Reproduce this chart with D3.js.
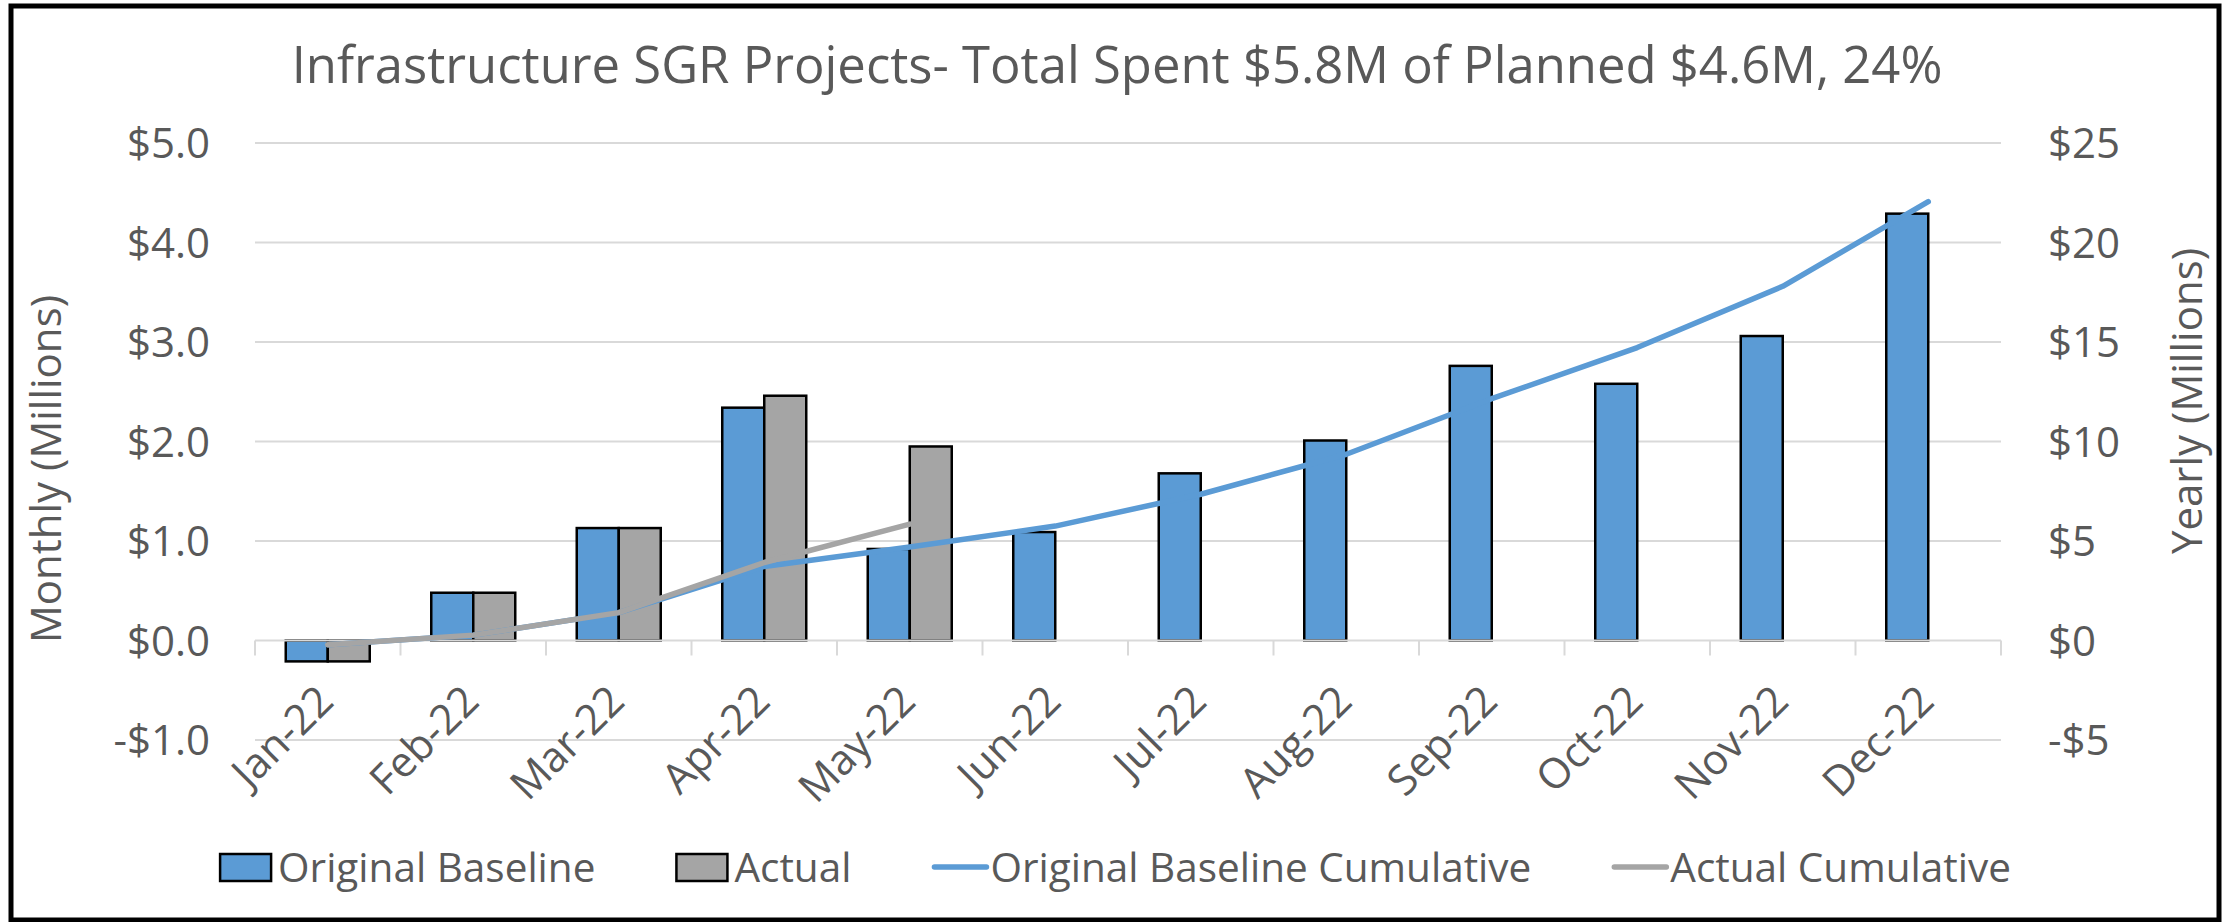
<!DOCTYPE html>
<html>
<head>
<meta charset="utf-8">
<script src="https://cdn.jsdelivr.net/npm/d3@7"></script>
<style>
  html, body { margin: 0; padding: 0; background: #fff; }
  svg { display: block; }
  text { font-family: "Open Sans", "Noto Sans", sans-serif; fill: #595959; }
</style>
</head>
<body>
<svg id="chart"></svg>
<script>
const months = ["Jan-22", "Feb-22", "Mar-22", "Apr-22", "May-22", "Jun-22",
  "Jul-22", "Aug-22", "Sep-22", "Oct-22", "Nov-22", "Dec-22"];
const baselineMonthly = [-0.21, 0.48, 1.13, 2.34, 0.92, 1.09, 1.68, 2.01, 2.76, 2.58, 3.06, 4.29];
const actualMonthly = [-0.21, 0.48, 1.13, 2.46, 1.95];
const baselineCumulative = [-0.21, 0.27, 1.40, 3.72, 4.70, 5.75, 7.35, 9.36, 12.15, 14.72, 17.80, 22.05];
const actualCumulative = [-0.21, 0.27, 1.40, 3.92, 5.85];
const leftTicks = [-1, 0, 1, 2, 3, 4, 5];
const rightTicks = [-5, 0, 5, 10, 15, 20, 25];
const legendItems = [
  { name: "Original Baseline", type: "bar", color: "#5B9BD5" },
  { name: "Actual", type: "bar", color: "#A5A5A5" },
  { name: "Original Baseline Cumulative", type: "line", color: "#5B9BD5" },
  { name: "Actual Cumulative", type: "line", color: "#A5A5A5" }
];
const title = "Infrastructure SGR Projects- Total Spent $5.8M of Planned $4.6M, 24%";

const width = 2229, height = 922;
const plot = { left: 255, right: 2001, top: 143, bottom: 740 };
const blue = "#5B9BD5", gray = "#A5A5A5", grid = "#D9D9D9";

const svg = d3.select("#chart").attr("width", width).attr("height", height);

// outer frame
svg.append("rect")
  .attr("x", 11).attr("y", 6)
  .attr("width", 2208).attr("height", 914)
  .attr("fill", "#fff").attr("stroke", "#000").attr("stroke-width", 5);

svg.append("text")
  .attr("x", 1117).attr("y", 83)
  .attr("text-anchor", "middle")
  .style("font-size", "50.8px")
  .text(title);

const pad = 0.4227;
const x0 = d3.scaleBand()
  .domain(months)
  .range([plot.left, plot.right])
  .paddingInner(pad)
  .paddingOuter(pad / 2);

const x1 = d3.scaleBand()
  .domain(["base", "actual"])
  .range([0, x0.bandwidth()]);

const yL = d3.scaleLinear().domain([-1, 5]).range([plot.bottom, plot.top]);
const yR = d3.scaleLinear().domain([-5, 25]).range([plot.bottom, plot.top]);

const fmtL = v => (v < 0 ? "-" : "") + "$" + Math.abs(v).toFixed(1);
const fmtR = v => (v < 0 ? "-" : "") + "$" + Math.abs(v);

// gridlines
svg.append("g")
  .selectAll("line")
  .data(leftTicks.filter(d => d !== 0))
  .join("line")
  .attr("x1", plot.left).attr("x2", plot.right)
  .attr("y1", d => yL(d)).attr("y2", d => yL(d))
  .attr("stroke", grid).attr("stroke-width", 2);

// left axis labels
const axL = svg.append("g")
  .attr("transform", `translate(${plot.left},0)`)
  .call(d3.axisLeft(yL).tickValues(leftTicks).tickFormat(fmtL).tickSize(0).tickPadding(45));
axL.select(".domain").remove();
axL.selectAll("text").style("font-size", "42px").attr("fill", "#595959").attr("dy", "0.35em");

// right axis labels
const axR = svg.append("g")
  .attr("transform", `translate(${plot.right},0)`)
  .call(d3.axisRight(yR).tickValues(rightTicks).tickFormat(fmtR).tickSize(0).tickPadding(47));
axR.select(".domain").remove();
axR.selectAll("text").style("font-size", "42px").attr("fill", "#595959").attr("dy", "0.35em");

// bars
const groups = svg.append("g")
  .selectAll("g")
  .data(months)
  .join("g")
  .attr("transform", d => `translate(${x0(d)},0)`);

groups.each(function (m, i) {
  const g = d3.select(this);
  const vals = [{ key: "base", v: baselineMonthly[i], c: blue }];
  if (i < actualMonthly.length) vals.push({ key: "actual", v: actualMonthly[i], c: gray });
  g.selectAll("rect")
    .data(vals)
    .join("rect")
    .attr("x", d => x1(d.key))
    .attr("width", x1.bandwidth())
    .attr("y", d => yL(Math.max(0, d.v)))
    .attr("height", d => Math.abs(yL(d.v) - yL(0)))
    .attr("fill", d => d.c)
    .attr("stroke", "#000")
    .attr("stroke-width", 2.5);
});

// category axis line and ticks
const y0 = yL(0);
svg.append("line")
  .attr("x1", plot.left).attr("x2", plot.right)
  .attr("y1", y0).attr("y2", y0)
  .attr("stroke", grid).attr("stroke-width", 2);

const bounds = d3.range(months.length + 1).map(i => plot.left + i * x0.step());
svg.append("g")
  .selectAll("line")
  .data(bounds)
  .join("line")
  .attr("x1", d => d).attr("x2", d => d)
  .attr("y1", y0).attr("y2", y0 + 15)
  .attr("stroke", grid).attr("stroke-width", 2);

// category labels
svg.append("g")
  .selectAll("text")
  .data(months)
  .join("text")
  .attr("text-anchor", "end")
  .attr("transform", d => `translate(${x0(d) + x0.bandwidth() / 2 + 8},${y0 + 63}) rotate(-45)`)
  .style("font-size", "42px")
  .text(d => d);

// cumulative lines
const line = d3.line()
  .x(d => x0(d.m) + x0.bandwidth() / 2)
  .y(d => yR(d.v));

svg.append("path")
  .datum(baselineCumulative.map((v, i) => ({ m: months[i], v })))
  .attr("d", line)
  .attr("fill", "none").attr("stroke", blue).attr("stroke-width", 5.5)
  .attr("stroke-linecap", "round").attr("stroke-linejoin", "round");

svg.append("path")
  .datum(actualCumulative.map((v, i) => ({ m: months[i], v })))
  .attr("d", line)
  .attr("fill", "none").attr("stroke", gray).attr("stroke-width", 5.5)
  .attr("stroke-linecap", "round").attr("stroke-linejoin", "round");

// axis titles
svg.append("text")
  .attr("transform", "translate(61,469) rotate(-90)")
  .attr("text-anchor", "middle")
  .style("font-size", "42px")
  .text("Monthly (Millions)");

svg.append("text")
  .attr("transform", "translate(2202,401) rotate(-90)")
  .attr("text-anchor", "middle")
  .style("font-size", "42px")
  .text("Yearly (Millions)");

// legend
const legend = svg.append("g");
const items = legend.selectAll("g")
  .data(legendItems)
  .join("g");

items.append("text")
  .attr("x", 59).attr("y", 882)
  .style("font-size", "40.5px")
  .text(d => d.name);

items.each(function (d) {
  const g = d3.select(this);
  if (d.type === "bar") {
    g.append("rect")
      .attr("x", 1).attr("y", 854).attr("width", 51).attr("height", 27)
      .attr("fill", d.color).attr("stroke", "#000").attr("stroke-width", 2.5);
  } else {
    g.append("line")
      .attr("x1", 3).attr("x2", 55).attr("y1", 867).attr("y2", 867)
      .attr("stroke", d.color).attr("stroke-width", 5.5).attr("stroke-linecap", "round");
  }
});

const gap = 80;
let widths = [];
items.each(function () {
  widths.push(59 + d3.select(this).select("text").node().getComputedTextLength());
});
const total = d3.sum(widths) + gap * (widths.length - 1);
let cursor = 1115 - total / 2;
items.attr("transform", (d, i) => {
  const t = `translate(${cursor},0)`;
  cursor += widths[i] + gap;
  return t;
});
</script>
</body>
</html>
